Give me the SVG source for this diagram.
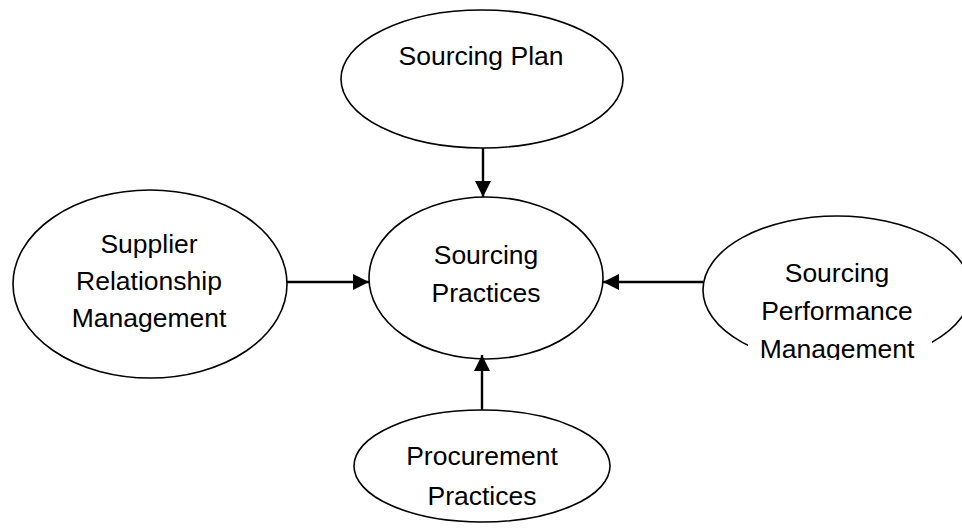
<svg xmlns="http://www.w3.org/2000/svg" width="962" height="529" viewBox="0 0 962 529">
<style>
.n{fill:#fff;stroke:#000;stroke-width:1.6}
.t{font-family:"Liberation Sans",Arial,sans-serif;font-size:26.5px;fill:#000;text-anchor:middle}
.c{stroke:#000;stroke-width:2.4;fill:none;marker-end:url(#ah)}
</style>
<defs>
<marker id="ah" markerUnits="userSpaceOnUse" markerWidth="16" markerHeight="16" viewBox="0 0 16 16" refX="16" refY="8" orient="auto">
<path d="M0,0 L16,8 L0,16 Z" fill="#000"/>
</marker>
<clipPath id="rc"><rect x="745" y="240" width="190" height="120"/></clipPath>
</defs>
<rect width="962" height="529" fill="#fff"/>
<g id="sourcing-plan">
<ellipse class="n" cx="482" cy="79" rx="141" ry="69"/>
<text class="t" x="481" y="65">Sourcing Plan</text>
</g>
<g id="sourcing-practices">
<ellipse class="n" cx="486" cy="278" rx="117" ry="81"/>
<text class="t" x="486" y="264">Sourcing</text>
<text class="t" x="486" y="302">Practices</text>
</g>
<g id="supplier-relationship-management">
<ellipse class="n" cx="150" cy="284" rx="137" ry="94"/>
<text class="t" x="149" y="253">Supplier</text>
<text class="t" x="149" y="290">Relationship</text>
<text class="t" x="149" y="327">Management</text>
</g>
<g id="sourcing-performance-management">
<ellipse class="n" cx="837" cy="290" rx="134" ry="74"/>
<rect x="748" y="325" width="184" height="43" fill="#fff"/>
<g clip-path="url(#rc)">
<text class="t" x="837" y="282">Sourcing</text>
<text class="t" x="837" y="320">Performance</text>
<text class="t" x="837" y="358">Management</text>
</g>
</g>
<g id="procurement-practices">
<ellipse class="n" cx="482" cy="466" rx="128" ry="56"/>
<text class="t" x="482" y="465">Procurement</text>
<text class="t" x="482" y="505">Practices</text>
</g>
<g id="connectors">
<line class="c" x1="483" y1="148" x2="483" y2="197"/>
<line class="c" x1="287" y1="282" x2="369" y2="282"/>
<line class="c" x1="703" y1="282" x2="603" y2="282"/>
<line class="c" x1="482" y1="410" x2="482" y2="355"/>
</g>
</svg>
